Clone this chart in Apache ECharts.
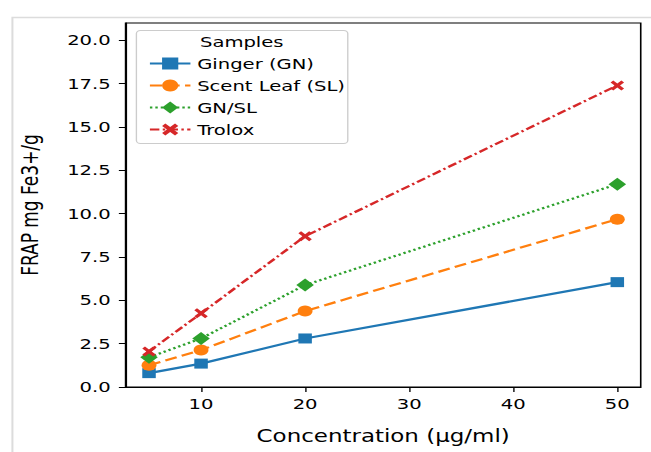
<!DOCTYPE html>
<html>
<head>
<meta charset="utf-8">
<script src="https://cdn.jsdelivr.net/npm/echarts@6/dist/echarts.min.js"></script>
<style>
  html, body { margin: 0; padding: 0; background: #fff; overflow: hidden; }
  /* the source picture is a matplotlib figure stretched sideways, so draw narrow and stretch */
  #chart { width: 482px; height: 452px; transform: scaleX(1.3506); transform-origin: 0 0; }
</style>
</head>
<body>
<div id="chart"></div>
<script>
// concentrations (ug/ml)
const concentrations = [5, 10, 20, 50]
const seriesNames = ['Ginger (GN)', 'Scent Leaf (SL)', 'GN/SL', 'Trolox']
// FRAP mg Fe3+/g
const ginger = [0.8, 1.35, 2.8, 6.05]
const scentLeaf = [1.25, 2.13, 4.38, 9.68]
const gnSl = [1.72, 2.8, 5.88, 11.7]
const trolox = [2.05, 4.25, 8.7, 17.4]
const xTicks = [10, 20, 30, 40, 50]
const yTicks = [0, 2.5, 5, 7.5, 10, 12.5, 15, 17.5, 20]

const font = 'DejaVu Sans'
const xMark = 'path://M0,2 L2,0 L5,3 L8,0 L10,2 L7,5 L10,8 L8,10 L5,7 L2,10 L0,8 L3,5 Z'

function pairs(vals) {
  return concentrations.map((c, i) => [c, vals[i]])
}

let chart = echarts.init(document.getElementById('chart'), null, { renderer: 'svg' })
chart.setOption({
  animation: false,
  textStyle: { fontFamily: font, color: '#000' },
  grid: {
    left: 93, right: 7.6, top: 23, bottom: 65,
    show: true, borderColor: '#000', borderWidth: 1.2
  },
  xAxis: {
    type: 'value',
    min: 2.75,
    max: 52.25,
    name: 'Concentration (μg/ml)',
    nameLocation: 'middle',
    nameGap: 41,
    nameTextStyle: { fontSize: 17, color: '#000', fontFamily: font },
    splitLine: { show: false },
    axisLine: { show: true, onZero: false, lineStyle: { color: '#000', width: 1.2 } },
    axisTick: { show: true, customValues: xTicks, length: 5, lineStyle: { color: '#000' } },
    axisLabel: { customValues: xTicks, margin: 9, fontSize: 14.5, color: '#000', fontFamily: font }
  },
  yAxis: {
    type: 'value',
    min: 0,
    max: 21,
    name: 'FRAP mg Fe3+/g',
    nameLocation: 'middle',
    nameGap: 62,
    nameRotate: 90,
    nameTextStyle: { fontSize: 17, color: '#000', fontFamily: font },
    splitLine: { show: false },
    axisLine: { show: true, lineStyle: { color: '#000', width: 1.2 } },
    axisTick: { show: true, customValues: yTicks, length: 5, lineStyle: { color: '#000' } },
    axisLabel: {
      customValues: yTicks, margin: 11, fontSize: 14.5, color: '#000', fontFamily: font,
      formatter: v => v.toFixed(1)
    }
  },
  legend: {
    orient: 'vertical',
    left: 105,
    top: 51,
    itemWidth: 30,
    itemHeight: 15,
    itemGap: 7,
    selectedMode: false,
    data: seriesNames,
    textStyle: { fontSize: 14.5, color: '#000', fontFamily: font }
  },
  graphic: [
    {
      type: 'rect', left: 6.7, top: 15, z: 0, silent: true,
      shape: { width: 600, height: 600 },
      style: { fill: 'none', stroke: '#dcdcdc', lineWidth: 1.5 }
    },
    {
      type: 'rect', left: 100.5, top: 30, z: 3, silent: true,
      shape: { width: 156.5, height: 113, r: 3 },
      style: { fill: 'rgba(255,255,255,0.8)', stroke: '#cccccc', lineWidth: 1 }
    },
    {
      type: 'text', x: 179, y: 42, z: 4, silent: true,
      style: {
        text: 'Samples', fontSize: 14.5, fontFamily: font, fill: '#000',
        align: 'center', verticalAlign: 'middle'
      }
    }
  ],
  series: [
    {
      name: seriesNames[0], type: 'line', data: pairs(ginger),
      symbol: 'rect', symbolSize: 10,
      itemStyle: { color: '#1f77b4' },
      lineStyle: { color: '#1f77b4', width: 2.2, type: 'solid' }
    },
    {
      name: seriesNames[1], type: 'line', data: pairs(scentLeaf),
      symbol: 'circle', symbolSize: 11,
      itemStyle: { color: '#ff7f0e' },
      lineStyle: { color: '#ff7f0e', width: 2.2, type: [9, 4] }
    },
    {
      name: seriesNames[2], type: 'line', data: pairs(gnSl),
      symbol: 'diamond', symbolSize: 13,
      itemStyle: { color: '#2ca02c' },
      lineStyle: { color: '#2ca02c', width: 2.2, type: [1.8, 2.2] }
    },
    {
      name: seriesNames[3], type: 'line', data: pairs(trolox),
      symbol: xMark, symbolSize: 10,
      itemStyle: { color: '#d62728' },
      lineStyle: { color: '#d62728', width: 2.2, type: [7, 2.5, 1.8, 2.5] }
    }
  ]
})
</script>
</body>
</html>
